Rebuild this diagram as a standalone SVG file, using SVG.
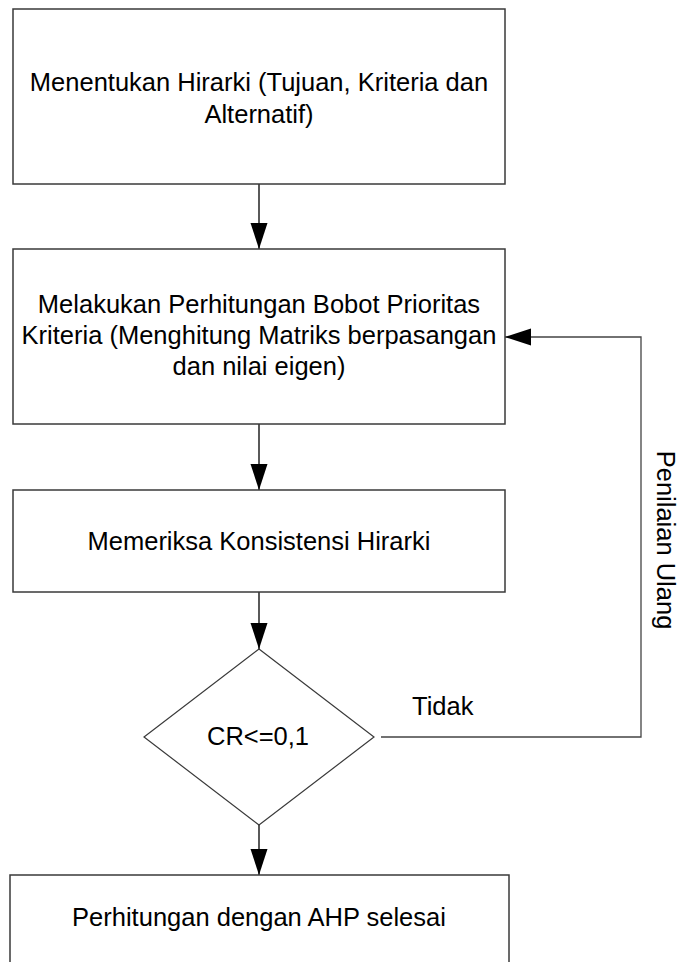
<svg xmlns="http://www.w3.org/2000/svg" width="683" height="962" viewBox="0 0 683 962">
<style>
.box{fill:#fff;stroke:#3a3a3a;stroke-width:1.5}
.ln{fill:none;stroke:#000;stroke-width:1.3}
.fb{fill:none;stroke:#444;stroke-width:1.3}
.t{font-family:"Liberation Sans",Arial,sans-serif;font-size:25.5px;fill:#000;text-anchor:middle}
.tl{font-family:"Liberation Sans",Arial,sans-serif;font-size:25.5px;fill:#000}
</style>
<defs>
<marker id="ah" markerUnits="userSpaceOnUse" markerWidth="27" markerHeight="18" refX="26" refY="8.5" orient="auto">
<path d="M0,0 L26,8.5 L0,17 z" fill="#000"/>
</marker>
</defs>
<rect width="683" height="962" fill="#fff"/>
<g id="connectors">
<line class="ln" x1="259" y1="184" x2="259" y2="249" marker-end="url(#ah)"/>
<line class="ln" x1="259" y1="424" x2="259" y2="490" marker-end="url(#ah)"/>
<line class="ln" x1="259" y1="592" x2="259" y2="649" marker-end="url(#ah)"/>
<line class="ln" x1="259" y1="825" x2="259" y2="875" marker-end="url(#ah)"/>
<polyline class="fb" points="381,737 641,737 641,337 505,337" marker-end="url(#ah)"/>
<text class="tl" x="412" y="715">Tidak</text>
<text class="t" transform="translate(657,540) rotate(90)">Penilaian Ulang</text>
</g>
<g id="n1">
<rect class="box" x="13" y="9" width="492" height="175"/>
<text class="t" x="259" y="91">Menentukan Hirarki (Tujuan, Kriteria dan</text>
<text class="t" x="259" y="123">Alternatif)</text>
</g>
<g id="n2">
<rect class="box" x="13" y="249" width="492" height="175"/>
<text class="t" x="259" y="313">Melakukan Perhitungan Bobot Prioritas</text>
<text class="t" x="259" y="344">Kriteria (Menghitung Matriks berpasangan</text>
<text class="t" x="259" y="375">dan nilai eigen)</text>
</g>
<g id="n3">
<rect class="box" x="13" y="490" width="492" height="102"/>
<text class="t" x="259" y="550">Memeriksa Konsistensi Hirarki</text>
</g>
<g id="n4">
<polygon class="box" points="259,649 374,737 259,825 144,737" style="stroke-width:1.2"/>
<text class="t" x="258" y="745">CR&lt;=0,1</text>
</g>
<g id="n5">
<rect class="box" x="10" y="875" width="499" height="110"/>
<text class="t" x="259" y="926">Perhitungan dengan AHP selesai</text>
</g>
</svg>
